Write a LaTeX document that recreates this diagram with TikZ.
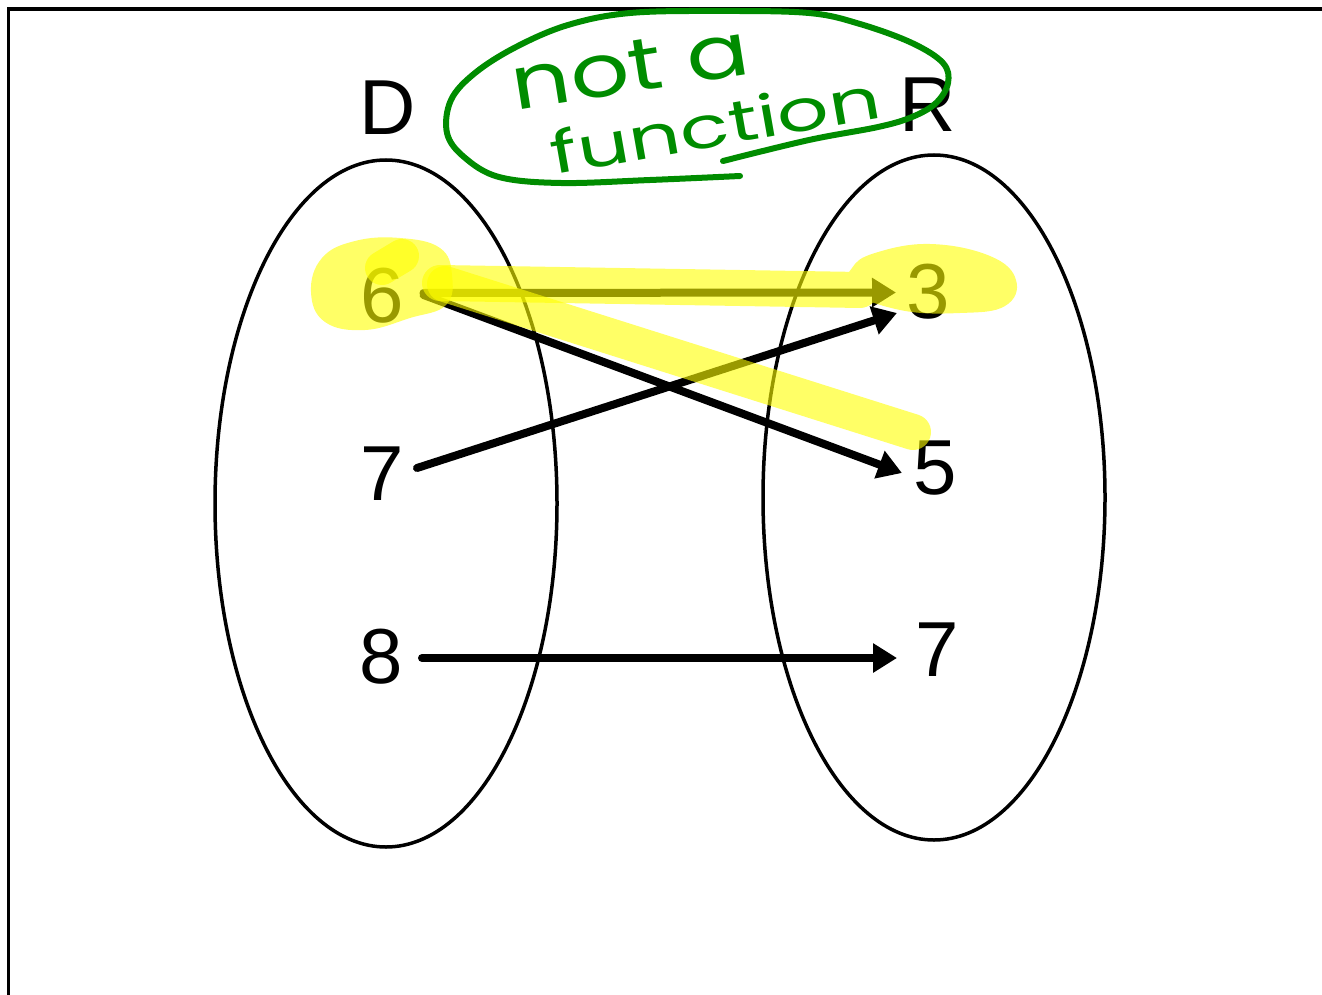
\documentclass[tikz,border=0pt]{standalone}
\usepackage{fontspec}
\setmainfont{Liberation Sans}
\newfontfamily\handfont{Poppins}
\usetikzlibrary{arrows.meta,calc,shapes.geometric}
\definecolor{hlyellow}{RGB}{255,255,0}
\definecolor{inkgreen}{RGB}{0,140,0}
\begin{document}
\begin{tikzpicture}[x=1pt,y=-1pt,
  lbl/.style={font=\fontsize{78}{80}\selectfont, inner sep=0pt, anchor=base},
  arr/.style={line width=8pt, line cap=round, -{Triangle[length=24pt,width=28pt]}},
  setline/.style={line width=3.5pt},
  setshape/.style={draw, line width=3.5pt, ellipse, inner sep=0pt, minimum width=342pt, minimum height=687pt},
  hl/.style={hlyellow, opacity=0.6},
  hand/.style={text=inkgreen, inner sep=0pt, anchor=base, font=\handfont},
  ink/.style={draw=inkgreen, line width=6pt, line cap=round, line join=round}]
\useasboundingbox (0,0) rectangle (1322,995);
% frame
\draw[setline] (8.5,995) -- (8.5,9) -- (1322,9);
% sets
\node[setshape] (dom) at (386,503.5) {};
\node[setshape, minimum height=685pt] (ran) at (934,497.5) {};
% labels
\node[lbl] (D) at (388,135) {D};
\node[lbl] (R) at (928,132) {R};
\node[lbl] (d6) at (382.5,322) {6};
\node[lbl] (d7) at (382,500) {7};
\node[lbl] (d8) at (381,683) {8};
\node[lbl] (r3) at (928,318) {3};
\node[lbl] (r5) at (935,494) {5};
\node[lbl] (r7) at (937,676) {7};
% mapping arrows
\draw[arr] ([shift={(41,-29)}]d6.base) -- ([shift={(-32,-25.5)}]r3.base);
\draw[arr] ([shift={(41,-27)}]d6.base) -- ([shift={(-33,-21)}]r5.base);
\draw[arr] ([shift={(35,-32)}]d7.base) -- ([shift={(-31,-5)}]r3.base);
\draw[arr] ([shift={(41,-25)}]d8.base) -- ([shift={(-40,-18)}]r7.base);
% highlighter
\fill[hl] plot[smooth cycle, tension=0.7] coordinates {(311,292) (322,258) (355,241) (400,238) (440,248) (452,275) (446,305) (410,318) (365,330) (325,322)};
\draw[hl, line width=34pt, line cap=round] (382,268) -- (402,256);
\begin{scope}[transparency group, opacity=0.6]
  \draw[hlyellow, line width=36pt, line cap=round] (440,283) -- (860,290);
  \fill[hlyellow] plot[smooth cycle, tension=0.7] coordinates {(849,290) (852,268) (875,253) (930,244) (990,256) (1016,280) (1005,306) (960,313) (900,310)};
\end{scope}
\draw[hl, line width=36pt, line cap=round] (445,284) -- (913,432);
% green annotation
\node[hand, font=\handfont\fontsize{74}{74}\selectfont, rotate=9, xscale=1.25] (nota) at (634,92) {not a};
\node[hand, font=\handfont\fontsize{58}{58}\selectfont, rotate=10, xscale=1.4] (func) at (719,146) {function};
\draw[ink] plot[smooth, tension=0.6] coordinates {(740,176) (650,180) (561,183) (499,177) (464,157) (447,133) (451,100) (475,73) (516,47) (568,25) (630,13) (720,11) (809,13) (860,24) (912,43) (943,63) (948,83) (936,103) (912,117) (878,127) (809,140) (723,161)};
\end{tikzpicture}
\end{document}
